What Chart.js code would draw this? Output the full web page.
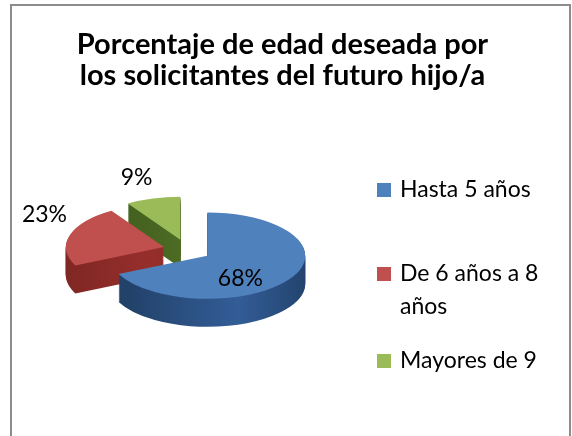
<!DOCTYPE html>
<html>
<head>
<meta charset="utf-8">
<style>
  body { margin: 0; background: #fff; font-family: Lato, sans-serif; }
  #frame { position: absolute; left: 10px; top: 4px; width: 557px; height: 440px; border: 2px solid #8c8c8c; }
  #chart { position: absolute; left: 0; top: 0; }
  #title { position: absolute; left: 4px; width: 557px; top: 27px; text-align: center;
           font-weight: bold; font-size: 29px; line-height: 31px; color: #000; }
  .item { position: absolute; left: 400px; width: 165px; font-size: 23px; line-height: 33px; color: #000; }
  .box { position: absolute; left: 377px; width: 14px; height: 14px; }
</style>
</head>
<body>
<div id="frame"></div>
<canvas id="chart" width="572" height="436"></canvas>
<div id="title">Porcentaje de edad deseada por<br>los solicitantes del futuro hijo/a</div>
<div id="legend"></div>
<script src="https://cdn.jsdelivr.net/npm/chart.js"></script>
<script>
const labels = ['Hasta 5 años', 'De 6 años a 8 años', 'Mayores de 9'];
const values = [68, 23, 9];
const pctLabels = ['68%', '23%', '9%'];
const topColors = ['#4F81BD', '#C0504D', '#9BBB59'];
const sideColors = [
  ['#22426a', '#335d97', '#1e3c62'],
  ['#7a2421', '#962f2c', '#6e1f1d'],
  ['#3b561b', '#4d6c24', '#3b561b']
];

// fake 3D look
const TILT = 0.44, DEPTH = 28, EXPLODE = 24;
const LABEL_R = [0.4, 1.27, 1.6];
const LABEL_DY = [14, -17, 4];

// legend (html)
const legendTops = [172, 256, 343];
const boxTops = [183, 267, 354];
const legend = document.getElementById('legend');
labels.forEach((l, i) => {
  const b = document.createElement('div');
  b.className = 'box';
  b.style.top = boxTops[i] + 'px';
  b.style.background = topColors[i];
  legend.appendChild(b);
  const t = document.createElement('div');
  t.className = 'item';
  t.style.top = legendTops[i] + 'px';
  t.textContent = l;
  legend.appendChild(t);
});

function sideFill(ctx, x, r, stops) {
  const g = ctx.createLinearGradient(x - r, 0, x + r, 0);
  g.addColorStop(0, stops[0]);
  g.addColorStop(0.55, stops[1]);
  g.addColorStop(1, stops[2]);
  return g;
}

const pie3d = {
  id: 'pie3d',
  beforeDatasetsDraw(chart) {
    const ctx = chart.ctx;
    const arcs = chart.getDatasetMeta(0).data;
    const cx = arcs[0].x, cy = arcs[0].y;
    ctx.save();
    ctx.translate(cx, cy);
    ctx.scale(1, TILT);
    ctx.translate(-cx, -cy);
    // back to front: green, red, blue
    for (let i = arcs.length - 1; i >= 0; i--) {
      const arc = arcs[i];
      const mid = (arc.startAngle + arc.endAngle) / 2;
      const ex = Math.cos(mid) * EXPLODE, ey = Math.sin(mid) * EXPLODE;
      const side = Object.create(arc);
      side.options = Object.assign({}, arc.options, {
        backgroundColor: sideFill(ctx, cx + ex, arc.outerRadius, sideColors[i])
      });
      for (let d = DEPTH; d > 0; d--) {
        ctx.save();
        ctx.translate(ex, ey + d / TILT);
        side.draw(ctx);
        ctx.restore();
      }
      ctx.save();
      ctx.translate(ex, ey);
      arc.draw(ctx);
      ctx.restore();
    }
    ctx.restore();
    return false;
  },
  afterDraw(chart) {
    const ctx = chart.ctx;
    const arcs = chart.getDatasetMeta(0).data;
    const cx = arcs[0].x, cy = arcs[0].y;
    ctx.save();
    ctx.font = '23px Lato';
    ctx.fillStyle = '#000';
    ctx.textAlign = 'center';
    ctx.textBaseline = 'middle';
    arcs.forEach((arc, i) => {
      const mid = (arc.startAngle + arc.endAngle) / 2;
      const r = arc.outerRadius * LABEL_R[i] + EXPLODE;
      const px = cx + Math.cos(mid) * r;
      const py = cy + Math.sin(mid) * r * TILT + LABEL_DY[i];
      ctx.fillText(pctLabels[i], px, py);
    });
    ctx.restore();
  }
};

new Chart(document.getElementById('chart'), {
  type: 'pie',
  data: {
    labels: labels,
    datasets: [{
      data: values,
      backgroundColor: topColors,
      borderWidth: 0,
      radius: 98
    }]
  },
  options: {
    responsive: false,
    animation: false,
    events: [],
    layout: { padding: { left: 70, right: 268, top: 150, bottom: 86 } },
    plugins: {
      legend: { display: false },
      title: { display: false },
      tooltip: { enabled: false }
    }
  },
  plugins: [pie3d]
});
</script>
</body>
</html>
